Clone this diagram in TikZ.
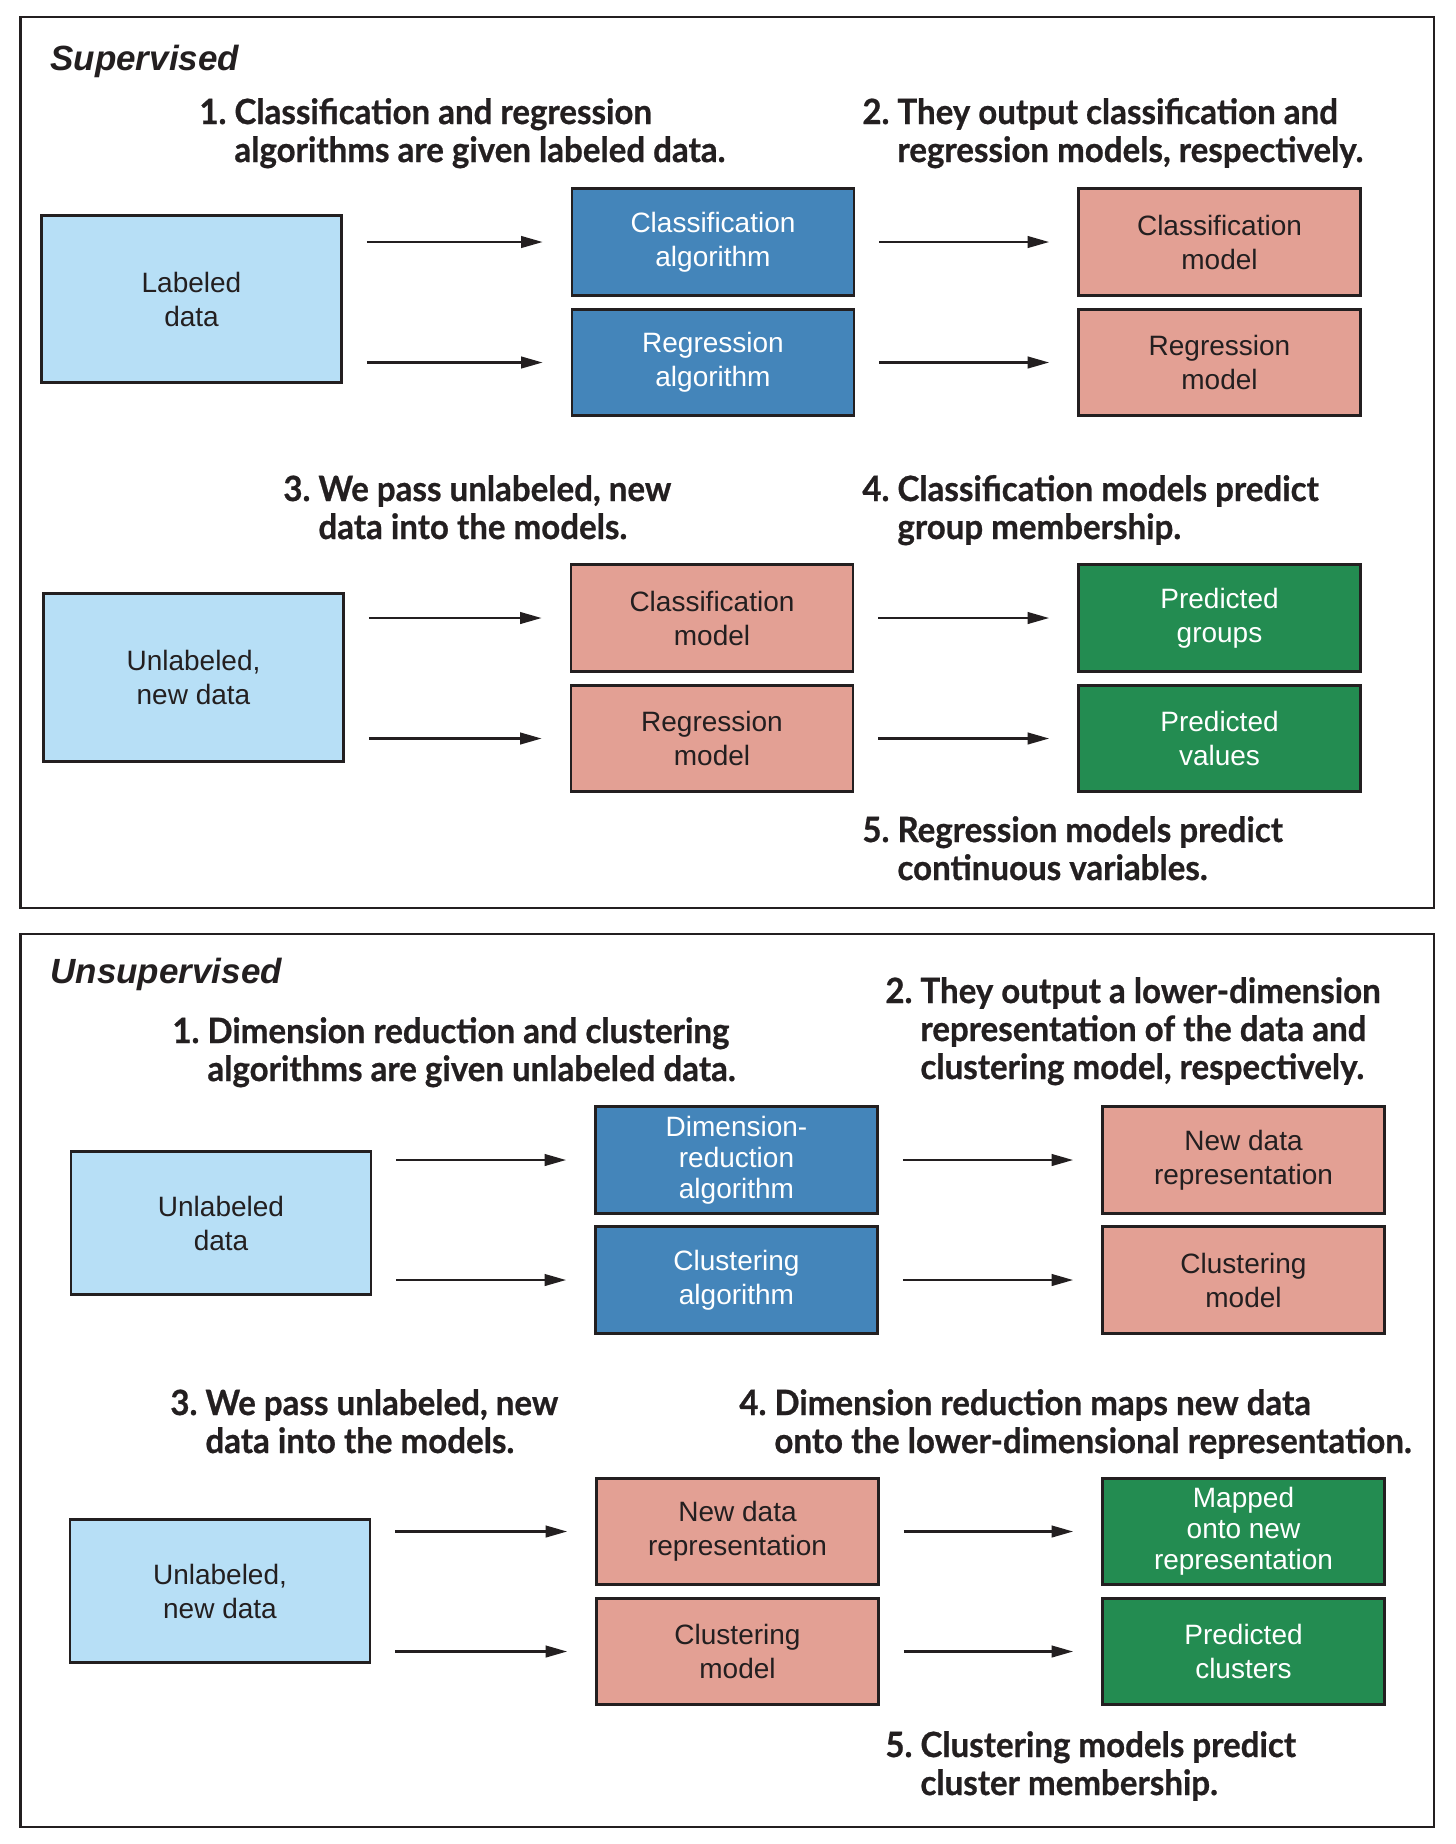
\documentclass[tikz,border=0pt]{standalone}
\usepackage{fontspec}
\setmainfont{Liberation Sans}
\newfontfamily\capfont{Lato}[FakeStretch=0.95, BoldFeatures={FakeBold=0.7}]
\usetikzlibrary{arrows.meta}
\definecolor{ink}{HTML}{231F20}
\definecolor{datablue}{HTML}{B7DFF6}
\definecolor{algblue}{HTML}{4485BA}
\definecolor{modelpink}{HTML}{E3A094}
\definecolor{predgreen}{HTML}{238C51}
\newcommand{\stepcap}[3]{\begin{tabular}[t]{@{}l@{\ }l@{}}#1&#2\\&#3\end{tabular}}

\begin{document}
\begin{tikzpicture}[x=0.5pt, y=-0.5pt,
		box/.style={draw=ink, line width=1.35pt, minimum width=141pt, minimum height=53.2pt, inner sep=2pt, align=center, font=\fontsize{14}{17}\selectfont},
		databox/.style={box, fill=datablue, text=ink, minimum width=150pt, minimum height=83.5pt},
		algbox/.style={box, fill=algblue, text=white},
		modelbox/.style={box, fill=modelpink, text=ink},
		predbox/.style={box, fill=predgreen, text=white},
		tight/.style={font=\fontsize{14}{15.5}\selectfont},
		caption/.style={anchor=base west, inner sep=0pt, text=ink, font=\capfont\bfseries\fontsize{17.4}{19}\selectfont},
		heading/.style={anchor=base west, inner sep=0pt, text=ink, font=\bfseries\itshape\fontsize{17.5}{20}\selectfont},
		arr/.style={draw=ink, line width=1.2pt, -{Triangle[length=10.8pt, width=5.8pt]}, shorten <=12pt, shorten >=14pt},
		frame/.style={draw=ink, line width=1.4pt}]
		\useasboundingbox (0,0) rectangle (1456,1844);
		\draw[frame] (20.3,17) rectangle (1434,908);
		\draw[frame] (20.3,934) rectangle (1434,1827);

		\node[heading] (sup) at (50,70) {Supervised};
		\node[caption] (scap1) at (199,124) {\stepcap{1.}{Classification and regression}{algorithms are given labeled data.}};
		\node[caption] (scap2) at (862,124) {\stepcap{2.}{They output classification and}{regression models, respectively.}};
		\node[caption] (scap3) at (283,501) {\stepcap{3.}{We pass unlabeled, new}{data into the models.}};
		\node[caption] (scap4) at (862,501) {\stepcap{4.}{Classification models predict}{group membership.}};
		\node[caption] (scap5) at (862,842) {\stepcap{5.}{Regression models predict}{continuous variables.}};

		\node[databox] (labeled) at (191.5,299) {Labeled\\data};
		\node[algbox] (classalg) at (713,242) {Classification\\algorithm};
		\node[algbox] (regalg) at (713,362.5) {Regression\\algorithm};
		\node[modelbox] (classmod) at (1219.5,242) {Classification\\model};
		\node[modelbox] (regmod) at (1219.5,362.5) {Regression\\model};

		\node[databox, minimum height=84pt] (newdata) at (193.5,677.5) {Unlabeled,\\new data};
		\node[modelbox] (classmodB) at (712,618) {Classification\\model};
		\node[modelbox] (regmodB) at (712,738.5) {Regression\\model};
		\node[predbox] (groups) at (1219.5,618) {Predicted\\groups};
		\node[predbox] (values) at (1219.5,738.5) {Predicted\\values};

		\node[heading] (unsup) at (50,983) {Unsupervised};
		\node[caption] (ucap1) at (172,1043) {\stepcap{1.}{Dimension reduction and clustering}{algorithms are given unlabeled data.}};
		\node[caption] (ucap2) at (885,1003) {\stepcap{2.}{They output a lower-dimension}{representation of the data and\\&clustering model, respectively.}};
		\node[caption] (ucap3) at (170,1415) {\stepcap{3.}{We pass unlabeled, new}{data into the models.}};
		\node[caption] (ucap4) at (739,1415) {\stepcap{4.}{Dimension reduction maps new data}{onto the lower-dimensional representation.}};
		\node[caption] (ucap5) at (885,1757) {\stepcap{5.}{Clustering models predict}{cluster membership.}};

		\node[databox, minimum height=71.5pt] (unlab) at (221,1223) {Unlabeled\\data};
		\node[algbox, tight] (dimalg) at (736.5,1160) {Dimension-\\reduction\\algorithm};
		\node[algbox] (clustalg) at (736.5,1280) {Clustering\\algorithm};
		\node[modelbox] (newrep) at (1243.5,1160) {New data\\representation};
		\node[modelbox] (clustmod) at (1243.5,1280) {Clustering\\model};

		\node[databox, minimum height=71.5pt] (unlabB) at (220,1591) {Unlabeled,\\new data};
		\node[modelbox] (newrepB) at (737.5,1531.5) {New data\\representation};
		\node[modelbox] (clustmodB) at (737.5,1651.5) {Clustering\\model};
		\node[predbox, tight] (mapped) at (1243.5,1531.5) {Mapped\\onto new\\representation};
		\node[predbox] (clusters) at (1243.5,1651.5) {Predicted\\clusters};

		\path (labeled.east |- classalg) edge[arr] (classalg)
		(labeled.east |- regalg) edge[arr] (regalg)
		(classalg) edge[arr] (classmod)
		(regalg) edge[arr] (regmod)
		(newdata.east |- classmodB) edge[arr] (classmodB)
		(newdata.east |- regmodB) edge[arr] (regmodB)
		(classmodB) edge[arr] (groups)
		(regmodB) edge[arr] (values)
		(unlab.east |- dimalg) edge[arr] (dimalg)
		(unlab.east |- clustalg) edge[arr] (clustalg)
		(dimalg) edge[arr] (newrep)
		(clustalg) edge[arr] (clustmod)
		(unlabB.east |- newrepB) edge[arr] (newrepB)
		(unlabB.east |- clustmodB) edge[arr] (clustmodB)
		(newrepB) edge[arr] (mapped)
		(clustmodB) edge[arr] (clusters);
	\end{tikzpicture}
\end{document}
